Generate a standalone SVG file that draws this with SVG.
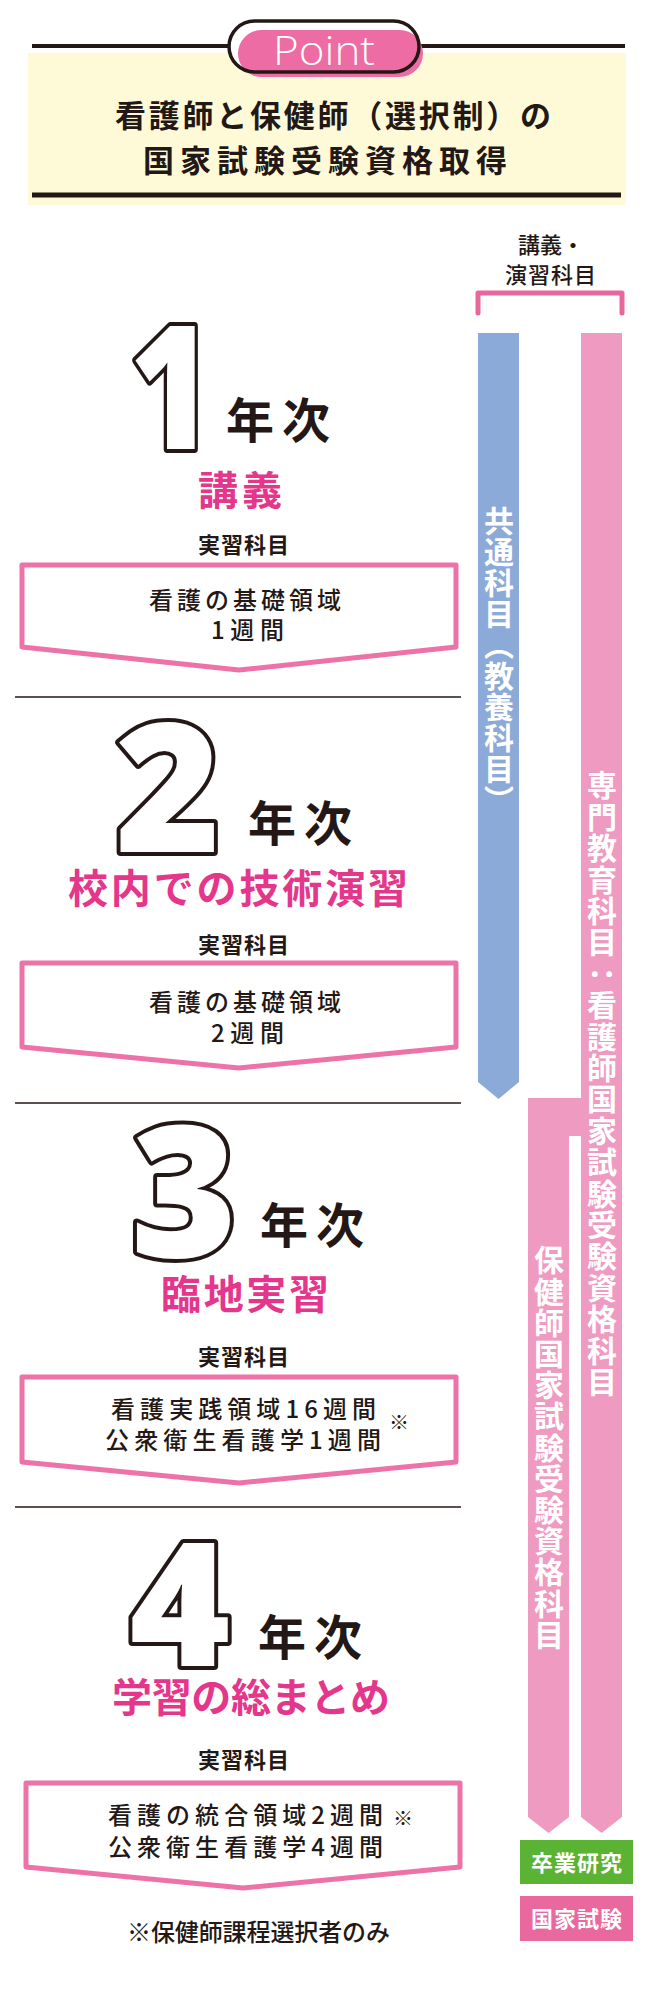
<svg xmlns="http://www.w3.org/2000/svg" width="650" height="2000" viewBox="0 0 650 2000">
<style>
.jp{font-family:"Noto Sans CJK JP","Noto Sans CJK SC",sans-serif;}
.title{font-size:31px;font-weight:700;fill:#231815;}
.nen{font-size:48px;font-weight:700;fill:#231815;letter-spacing:8px;}
.sub{font-size:40px;font-weight:700;fill:#E4378B;}
.lbl{font-size:22px;font-weight:700;fill:#231815;letter-spacing:1px;}
.body{font-size:24px;font-weight:500;fill:#231815;}
.small{font-size:22px;font-weight:500;fill:#231815;}
.num{font-family:"Open Sans","Liberation Sans",sans-serif;font-weight:800;fill:#fff;stroke:#231815;stroke-width:8;stroke-linejoin:round;paint-order:stroke;text-anchor:middle;}
.vt{font-size:30px;font-weight:700;fill:#fff;writing-mode:vertical-rl;}
.box{fill:#fff;stroke:#EC72A8;stroke-width:5;stroke-linejoin:round;}
.sep{stroke:#231815;stroke-width:1.5;}
.btn{font-size:22px;font-weight:700;fill:#fff;letter-spacing:1px;}
.mark{font-size:20px;font-weight:700;fill:#231815;text-anchor:middle;}
</style>

<g id="header">
  <rect x="28" y="53" width="598" height="152" fill="#FEFAD8"/>
  <line x1="32" y1="46" x2="625" y2="46" stroke="#231815" stroke-width="4"/>
  <line x1="32" y1="195" x2="621" y2="195" stroke="#231815" stroke-width="5"/>
  <rect x="229" y="21" width="190" height="51" rx="25.5" fill="#fff"/>
  <rect x="238" y="30" width="185" height="47" rx="23.5" fill="#EC6CA3"/>
  <rect x="229" y="21" width="190" height="51" rx="25.5" fill="none" stroke="#231815" stroke-width="3.5"/>
  <text x="273" y="65" font-family="'Open Sans',sans-serif" font-size="40" font-weight="300" fill="#fff" textLength="102" lengthAdjust="spacingAndGlyphs">Point</text>
  <text class="jp title" x="115" y="127" textLength="436" lengthAdjust="spacing">看護師と保健師（選択制）の</text>
  <text class="jp title" x="143" y="172" textLength="364" lengthAdjust="spacing">国家試験受験資格取得</text>
</g>

<g id="legend">
  <text class="jp small" x="551" y="253" text-anchor="middle">講義・</text>
  <text class="jp small" x="551" y="283" text-anchor="middle" letter-spacing="1">演習科目</text>
  <path d="M478,313 V293 H622 V313" fill="none" stroke="#E8679D" stroke-width="5" stroke-linecap="round" stroke-linejoin="round"/>
</g>

<g id="bars">
  <g id="bar-common">
    <polygon points="478,333 519,333 519,1082 498.5,1099 478,1082" fill="#8CAAD8"/>
    <text class="jp vt" x="499" y="506" letter-spacing="1">共通科目（教養科目）</text>
  </g>
  <g id="bar-nurse">
    <polygon points="581,333 622,333 622,1817 601.5,1833 581,1817" fill="#EF9AC0"/>
    <text class="jp vt" x="602" y="770" letter-spacing="1.4">専門教育科目：看護師国家試験受験資格科目</text>
  </g>
  <g id="bar-phn">
    <polygon points="528,1098 581,1098 581,1136 569,1136 569,1817 548.5,1833 528,1817" fill="#EF9AC0"/>
    <text class="jp vt" x="549" y="1245" letter-spacing="1.2">保健師国家試験受験資格科目</text>
  </g>
</g>

<g id="separators">
  <line class="sep" x1="15" y1="697" x2="461" y2="697"/>
  <line class="sep" x1="15" y1="1103" x2="461" y2="1103"/>
  <line class="sep" x1="15" y1="1507" x2="461" y2="1507"/>
</g>

<g id="year1">
  <text class="num" x="0" y="0" font-size="172" transform="translate(171,449) scale(0.82,1)">1</text>
  <text class="jp nen" x="226" y="438">年次</text>
  <text class="jp sub" x="242" y="505" text-anchor="middle" letter-spacing="4">講義</text>
  <text class="jp lbl" x="244" y="553" text-anchor="middle">実習科目</text>
  <polygon class="box" points="22,565 456,565 456,647 239,670 22,647"/>
  <text class="jp body" x="149" y="609" textLength="192" lengthAdjust="spacing">看護の基礎領域</text>
  <text class="jp body" x="211" y="639" textLength="73" lengthAdjust="spacing">1週間</text>
</g>

<g id="year2">
  <text class="num" x="168" y="852" font-size="180">2</text>
  <text class="jp nen" x="248" y="841">年次</text>
  <text class="jp sub" x="68" y="903" textLength="340" lengthAdjust="spacing">校内での技術演習</text>
  <text class="jp lbl" x="244" y="953" text-anchor="middle">実習科目</text>
  <polygon class="box" points="22,963 456,963 456,1047 239,1068 22,1047"/>
  <text class="jp body" x="149" y="1011" textLength="192" lengthAdjust="spacing">看護の基礎領域</text>
  <text class="jp body" x="211" y="1042" textLength="73" lengthAdjust="spacing">2週間</text>
</g>

<g id="year3">
  <text class="num" x="184" y="1257" font-size="182">3</text>
  <text class="jp nen" x="260" y="1243">年次</text>
  <text class="jp sub" x="161" y="1309" textLength="168" lengthAdjust="spacing">臨地実習</text>
  <text class="jp lbl" x="244" y="1365" text-anchor="middle">実習科目</text>
  <polygon class="box" points="22,1377 456,1377 456,1462 239,1483 22,1462"/>
  <text class="jp body" x="111" y="1418" textLength="265" lengthAdjust="spacing">看護実践領域16週間</text>
  <text class="jp body" x="105" y="1449" textLength="276" lengthAdjust="spacing">公衆衛生看護学1週間</text>
  <text class="jp mark" x="399" y="1430">※</text>
</g>

<g id="year4">
  <text class="num" x="180" y="1666" font-size="172">4</text>
  <text class="jp nen" x="258" y="1655">年次</text>
  <text class="jp sub" x="112" y="1712" textLength="278" lengthAdjust="spacing">学習の総まとめ</text>
  <text class="jp lbl" x="244" y="1768" text-anchor="middle">実習科目</text>
  <polygon class="box" points="26,1783 460,1783 460,1867 243,1888 26,1867"/>
  <text class="jp body" x="108" y="1824" textLength="275" lengthAdjust="spacing">看護の統合領域2週間</text>
  <text class="jp body" x="108" y="1856" textLength="275" lengthAdjust="spacing">公衆衛生看護学4週間</text>
  <text class="jp mark" x="403" y="1826">※</text>
</g>

<g id="note">
  <text class="jp body" x="127" y="1941" font-weight="400" textLength="263" lengthAdjust="spacing">※保健師課程選択者のみ</text>
</g>

<g id="goal-research">
  <rect x="520" y="1840" width="113" height="44" fill="#5BB334"/>
  <text class="jp btn" x="577" y="1871" text-anchor="middle">卒業研究</text>
</g>
<g id="goal-exam">
  <rect x="520" y="1896" width="113" height="45" fill="#E9689E"/>
  <text class="jp btn" x="577" y="1927" text-anchor="middle">国家試験</text>
</g>
</svg>
